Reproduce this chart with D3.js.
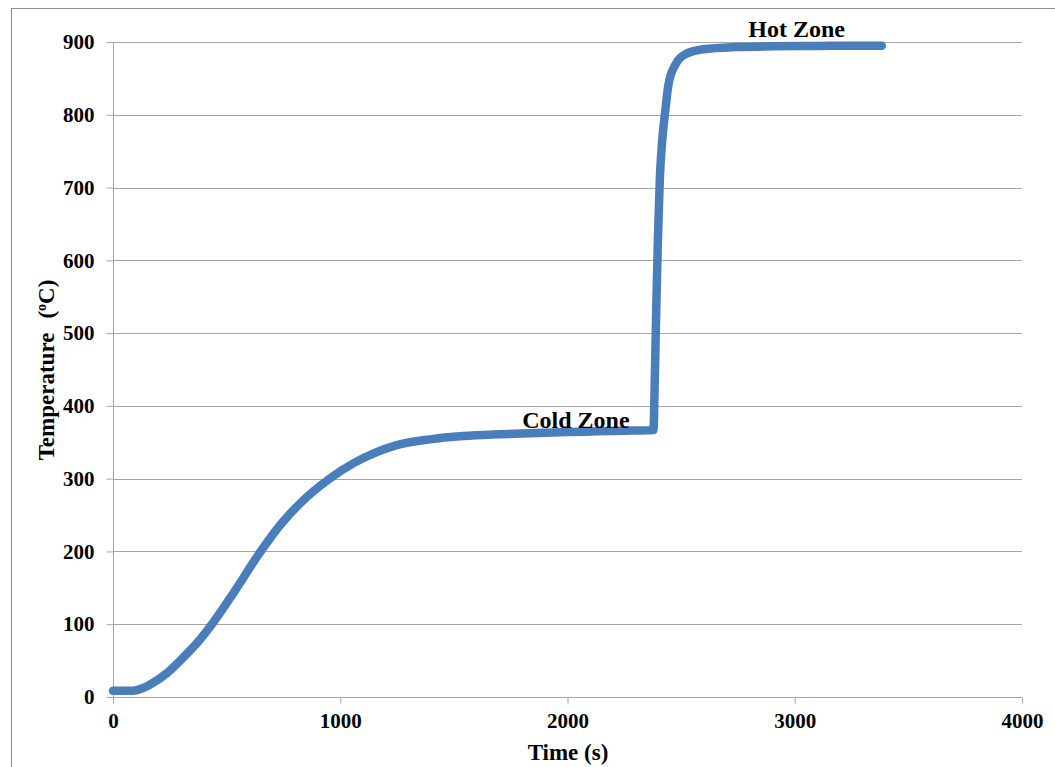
<!DOCTYPE html>
<html>
<head>
<meta charset="utf-8">
<script src="https://cdn.jsdelivr.net/npm/d3@7"></script>
<style>
  html, body { margin: 0; padding: 0; background: #fff; }
  svg { display: block; }
  text { font-family: "Liberation Serif", "Times New Roman", serif; font-weight: bold; fill: #000; }
</style>
</head>
<body>
<div id="chart"></div>
<script>
// Thermocouple trace: time (s) vs temperature (°C)
const timeSec = [0, 89, 133, 177, 236, 310, 383, 440, 529, 651, 735, 823, 955,
  1057, 1150, 1248, 1395, 1541, 1700, 1835, 2000, 2128, 2250, 2378,
  2385, 2391, 2398, 2406, 2416, 2429, 2444, 2473, 2524, 2598, 2744, 2900, 3100, 3250, 3383];
const tempC = [8.7, 8.7, 12.4, 19.7, 32.5, 54.5, 79, 102, 142.5, 200.6, 236, 266, 300.4,
  321, 335, 346, 354, 358.5, 361, 362.5, 364, 365, 366, 367,
  450, 540, 630, 710, 762, 802, 841, 868, 884, 890, 893, 894, 894.5, 895, 895];

const xTicks = [0, 1000, 2000, 3000, 4000];
const yTicks = [0, 100, 200, 300, 400, 500, 600, 700, 800, 900];
const annotations = [
  { label: "Cold Zone", t: 2037, v: 369 },
  { label: "Hot Zone", t: 3008, v: 907 }
];

const W = 1055, H = 767;
const plot = { left: 113, right: 1022, top: 42, bottom: 697 };
const gridColor = "#a6a6a6";
const lineColor = "#4a7ebb";

const svg = d3.select("#chart").append("svg")
  .attr("width", W).attr("height", H);

// outer chart frame
svg.append("rect")
  .attr("x", 11.5).attr("y", 8.5)
  .attr("width", 1100).attr("height", 800)
  .attr("fill", "none").attr("stroke", "#8c8c8c").attr("stroke-width", 1);

const x = d3.scaleLinear().domain([0, 4000]).range([plot.left, plot.right]);
const y = d3.scaleLinear().domain([0, 900]).range([plot.bottom, plot.top]);

// horizontal grid
svg.append("g")
  .selectAll("line")
  .data(yTicks.filter(d => d > 0))
  .join("line")
  .attr("x1", plot.left).attr("x2", plot.right)
  .attr("y1", d => Math.round(y(d)) + 0.5).attr("y2", d => Math.round(y(d)) + 0.5)
  .attr("stroke", gridColor).attr("stroke-width", 1);

const styleTicks = (gEl) => {
  gEl.select(".domain").attr("stroke", gridColor);
  gEl.selectAll(".tick line").attr("stroke", gridColor);
  gEl.selectAll("text")
    .style("font-size", "21px")
    .style("font-family", "'Liberation Serif', serif")
    .style("font-weight", "bold")
    .attr("fill", "#000");
};

// y axis
const yAxis = svg.append("g")
  .attr("transform", `translate(${plot.left + 0.5},0)`)
  .call(d3.axisLeft(y).tickValues(yTicks).tickSize(7).tickPadding(12).tickFormat(d3.format("d")))
  .call(styleTicks);
yAxis.select(".domain").attr("d", `M0,${plot.top}V${plot.bottom}`);

// x axis
const xAxis = svg.append("g")
  .attr("transform", `translate(0,${plot.bottom + 0.5})`)
  .call(d3.axisBottom(x).tickValues(xTicks).tickSize(6).tickFormat(d3.format("d")))
  .call(styleTicks);
xAxis.select(".domain").attr("d", `M${plot.left},0H${plot.right}`);
xAxis.selectAll("text").attr("y", 16);

// series
const line = d3.line()
  .x((d, i) => x(timeSec[i]))
  .y(d => y(d))
  .curve(d3.curveMonotoneX);

svg.append("path")
  .datum(tempC)
  .attr("fill", "none")
  .attr("stroke", lineColor)
  .attr("stroke-width", 8.5)
  .attr("stroke-linejoin", "round")
  .attr("stroke-linecap", "round")
  .attr("d", line);

// zone labels
svg.append("g")
  .selectAll("text")
  .data(annotations)
  .join("text")
  .attr("x", d => x(d.t))
  .attr("y", d => y(d.v))
  .attr("text-anchor", "middle")
  .style("font-size", "24px")
  .text(d => d.label);

// axis titles
svg.append("text")
  .attr("x", 568)
  .attr("y", 760)
  .attr("text-anchor", "middle")
  .style("font-size", "23px")
  .text("Time (s)");

const yTitle = svg.append("text")
  .attr("transform", "translate(54,370) rotate(-90)")
  .attr("text-anchor", "middle")
  .style("font-size", "23px");
yTitle.append("tspan").text("Temperature");
yTitle.append("tspan").attr("dx", 14).text("(");
yTitle.append("tspan").attr("dy", -8).style("font-size", "14px").text("o");
yTitle.append("tspan").attr("dy", 8).text("C)");
</script>
</body>
</html>
